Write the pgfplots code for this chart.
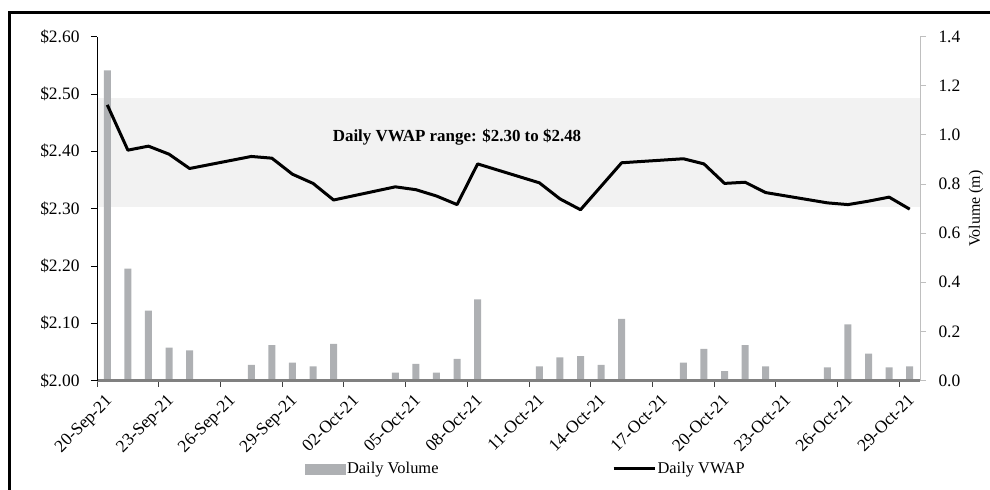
\documentclass[border=0pt]{standalone}
\usepackage{fontspec}
\setmainfont{Liberation Serif}
\usepackage{pgfplots}
\pgfplotsset{compat=1.18}
\usepackage{pgfplotstable}

\definecolor{volbar}{RGB}{174,176,179}
\definecolor{rangeband}{RGB}{242,242,242}
\definecolor{rightax}{RGB}{191,191,191}
\definecolor{baseax}{RGB}{128,128,128}

% trading days counted from 20-Sep-21; volume in millions, VWAP in $
\pgfplotstableread{
day vol   vwap
0   1.263 2.481
1   0.456 2.402
2   0.285 2.409
3   0.134 2.395
4   0.123 2.370
7   0.064 2.391
8   0.144 2.388
9   0.073 2.360
10  0.058 2.344
11  0.149 2.315
14  0.032 2.338
15  0.068 2.333
16  0.032 2.322
17  0.088 2.307
18  0.330 2.378
21  0.058 2.345
22  0.094 2.317
23  0.099 2.298
24  0.064 2.339
25  0.251 2.380
28  0.073 2.387
29  0.129 2.378
30  0.038 2.344
31  0.144 2.346
32  0.058 2.328
35  0.053 2.310
36  0.229 2.307
37  0.109 2.313
38  0.053 2.320
39  0.058 2.299
}\trades

\begin{document}
\begin{tikzpicture}[x=1bp,y=1bp]
\pgfplotsset{
  frame/.style={
    scale only axis, width=823bp, height=343.8bp,
    at={(97bp,109.5bp)}, anchor=south west,
    xmin=0, xmax=40,
    tick label style={font=\fontsize{17.5}{20}\selectfont},
    /pgf/number format/assume math mode=true,
    tick align=outside, major tick length=6bp,
  }
}

% shaded VWAP range
\begin{axis}[frame, ymin=2, ymax=2.6, hide axis]
  \addplot[draw=none, fill=rangeband] coordinates {(0,2.303) (40,2.303) (40,2.493) (0,2.493)} -- cycle;
\end{axis}

% daily volume on the right-hand scale
\begin{axis}[frame, ymin=0, ymax=1.4,
  ytick={0,0.2,0.4,0.6,0.8,1.0,1.2,1.4},
  yticklabel={\pgfmathprintnumber[fixed,fixed zerofill,precision=1]{\tick}},
  yticklabel style={xshift=9bp},
  axis y line*=right, axis x line=none,
  y axis line style={draw=rightax, line width=1bp, -},
  ytick style={draw=rightax, line width=1bp},
  ylabel={Volume (m)},
  ylabel style={font=\fontsize{16}{19}\selectfont, at={(axis description cs:1,0.5)}, anchor=center, yshift=-56bp},
]
  \addplot[ybar, bar width=7bp, bar shift=0pt, fill=volbar, draw=none]
    table[x expr=\thisrow{day}+0.5, y=vol] {\trades};
\end{axis}

% daily VWAP on the left-hand scale, with the date axis
\begin{axis}[frame, ymin=2, ymax=2.6,
  ytick={2.0,2.1,2.2,2.3,2.4,2.5,2.6},
  yticklabel={\$\pgfmathprintnumber[fixed,fixed zerofill,precision=2]{\tick}},
  yticklabel style={xshift=-8bp},
  axis y line*=left, axis x line*=bottom,
  y axis line style={draw=black, line width=0.8bp, -},
  x axis line style={draw=baseax, line width=2bp, -},
  ytick style={draw=black, line width=0.8bp},
  xtick style={draw=black!75, line width=1bp},
  xtick={0,3,...,39},
  xticklabels={20-Sep-21,23-Sep-21,26-Sep-21,29-Sep-21,02-Oct-21,05-Oct-21,08-Oct-21,11-Oct-21,14-Oct-21,17-Oct-21,20-Oct-21,23-Oct-21,26-Oct-21,29-Oct-21},
  xticklabel style={rotate=45, anchor=north east, inner sep=1bp, xshift=1.5bp, yshift=-9bp},
  legend style={at={(axis description cs:0.2527,-0.257)}, anchor=west,
    draw=none, fill=none, legend columns=2, inner sep=0pt,
    font=\fontsize{16.5}{19}\selectfont,
    nodes={inner sep=1.5bp},
    /tikz/every even column/.append style={column sep=172bp}},
  legend cell align=left,
]
  \addlegendimage{legend image code/.code={\fill[volbar] (0bp,-5bp) rectangle (40bp,5bp);}}
  \addlegendentry{Daily Volume}
  \addplot[line width=3bp, black, line join=round, mark=none,
    legend image code/.code={\draw[line width=3bp] (0bp,0bp) -- (41bp,0bp);}]
    table[x expr=\thisrow{day}+0.5, y=vwap] {\trades};
  \addlegendentry{Daily VWAP}
\end{axis}

\node[font=\bfseries\fontsize{17}{20}\selectfont] at (457bp,353bp) {Daily VWAP range: \$2.30 to \$2.48};

% chart border
\draw[line width=3bp] (9bp,-20bp) -- (9bp,477bp) -- (1010bp,477bp);

\pgfresetboundingbox
\useasboundingbox (0bp,0bp) rectangle (990bp,490bp);
\end{tikzpicture}
\end{document}
